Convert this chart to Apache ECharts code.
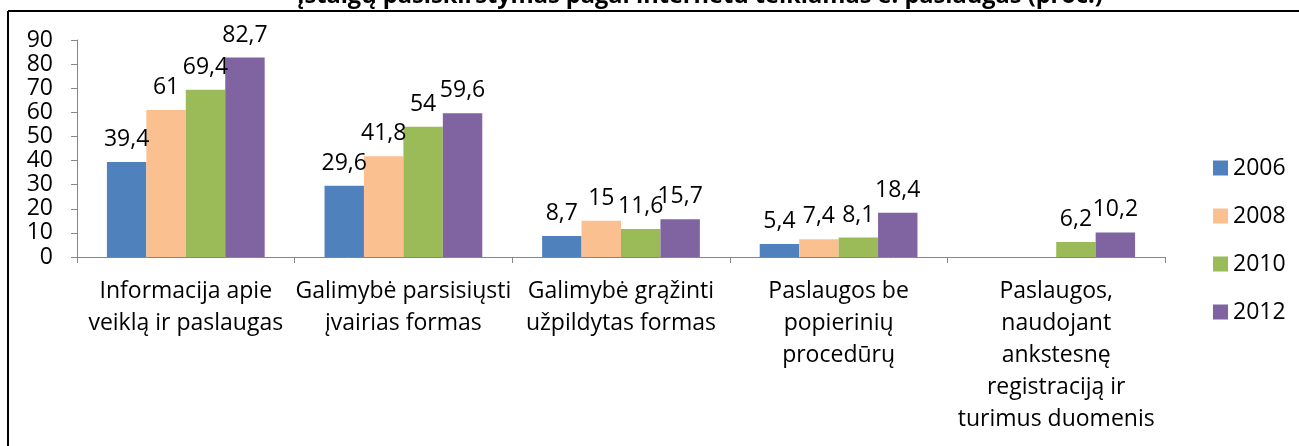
<!DOCTYPE html>
<html>
<head>
<meta charset="utf-8">
<script src="https://cdn.jsdelivr.net/npm/echarts@6/dist/echarts.min.js"></script>
<style>
html,body{margin:0;padding:0;background:#fff;}
#chart{width:1299px;height:446px;}
</style>
</head>
<body>
<div id="chart"></div>
<script>
const categories = [
  "Informacija apie\nveiklą ir paslaugas",
  "Galimybė parsisiųsti\nįvairias formas",
  "Galimybė grąžinti\nužpildytas formas",
  "Paslaugos be\npopierinių\nprocedūrų",
  "Paslaugos,\nnaudojant\nankstesnę\nregistraciją ir\nturimus duomenis"
];
const seriesNames = ["2006", "2008", "2010", "2012"];
const values2006 = [39.4, 29.6, 8.7, 5.4, null];
const values2008 = [61, 41.8, 15, 7.4, null];
const values2010 = [69.4, 54, 11.6, 8.1, 6.2];
const values2012 = [82.7, 59.6, 15.7, 18.4, 10.2];
const colors = ["#4F81BD", "#FAC090", "#9BBB59", "#8064A2"];
const titleText = "įstaigų pasiskirstymas pagal internetu teikiamas e. paslaugas (proc.)";

const FONT = "Open Sans";
const FS = 23;
const allValues = [values2006, values2008, values2010, values2012];

const chart = echarts.init(document.getElementById('chart'), null, {renderer: 'canvas'});
chart.setOption({
  animation: false,
  backgroundColor: '#ffffff',
  textStyle: {fontFamily: FONT, color: '#000'},
  grid: {left: 77, right: 134, top: 40, bottom: 189, containLabel: false},
  legend: {
    orient: 'vertical',
    left: 1208,
    top: 151,
    itemWidth: 15,
    itemHeight: 15,
    itemGap: 24,
    icon: 'rect',
    textStyle: {fontFamily: FONT, fontSize: FS, color: '#000', lineHeight: 24},
    data: seriesNames
  },
  xAxis: {
    type: 'category',
    data: categories,
    axisLine: {lineStyle: {color: '#868686', width: 1}},
    axisTick: {show: true, alignWithLabel: false, length: 6, lineStyle: {color: '#868686'}},
    axisLabel: {interval: 0, margin: 18, fontFamily: FONT, fontSize: FS, color: '#000', lineHeight: 32, align: 'center'}
  },
  yAxis: {
    type: 'value',
    min: 0, max: 90, interval: 10,
    axisLine: {show: true, lineStyle: {color: '#868686'}},
    axisTick: {show: true, length: 6, lineStyle: {color: '#868686'}},
    splitLine: {show: false},
    axisLabel: {margin: 24, fontFamily: FONT, fontSize: FS, color: '#000', lineHeight: 24}
  },
  series: allValues.map((vals, i) => ({
    name: seriesNames[i],
    type: 'bar',
    data: vals,
    barGap: '0%',
    barCategoryGap: '27.5%',
    itemStyle: {color: colors[i]},
    label: {
      show: true,
      position: 'top',
      distance: 11,
      fontFamily: FONT,
      fontSize: FS,
      color: '#000',
      formatter: p => String(p.value).replace('.', ',')
    }
  })),
  graphic: [
    {type: 'line', shape: {x1: 8, y1: 11, x2: 1299, y2: 11}, style: {stroke: '#000', lineWidth: 2}},
    {type: 'line', shape: {x1: 8, y1: 11, x2: 8, y2: 446}, style: {stroke: '#000', lineWidth: 2}},
    {type: 'text', x: 700, y: -4, z: 10, style: {text: titleText, fontFamily: FONT, fontWeight: 'bold', fontSize: 23.6, fill: '#000', align: 'center', verticalAlign: 'middle'}}
  ]
});
</script>
</body>
</html>
